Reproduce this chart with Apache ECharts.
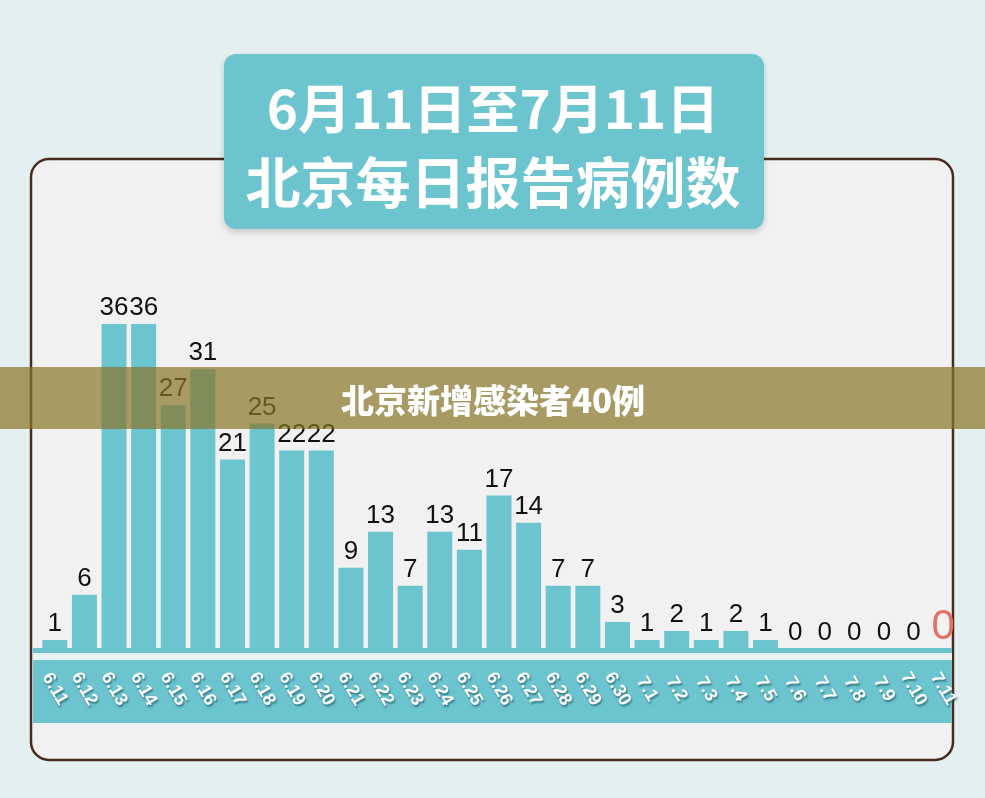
<!DOCTYPE html>
<html>
<head>
<meta charset="utf-8">
<script src="https://cdn.jsdelivr.net/npm/echarts@6/dist/echarts.min.js"></script>
<style>
  html, body { margin: 0; padding: 0; background: #e3eff0; }
  #chart { width: 985px; height: 798px; }
</style>
</head>
<body>
<div id="chart"></div>
<script>
// 6月11日至7月11日 北京每日报告病例数
const dates = ['6.11', '6.12', '6.13', '6.14', '6.15', '6.16', '6.17', '6.18', '6.19', '6.20',
  '6.21', '6.22', '6.23', '6.24', '6.25', '6.26', '6.27', '6.28', '6.29', '6.30',
  '7.1', '7.2', '7.3', '7.4', '7.5', '7.6', '7.7', '7.8', '7.9', '7.10', '7.11']
const cases = [1, 6, 36, 36, 27, 31, 21, 25, 22, 22,
  9, 13, 7, 13, 11, 17, 14, 7, 7, 3,
  1, 2, 1, 2, 1, 0, 0, 0, 0, 0, 0]
const titleLines = ['6月11日至7月11日', '北京每日报告病例数']
const bannerText = '北京新增感染者40例'

const teal = '#6cc4cf'
const numFont = '"Liberation Sans", Arial, sans-serif'
const cjkFont = '"Noto Sans CJK SC", sans-serif'

const barData = cases.map((v, i) => {
  if (i === cases.length - 1) {
    return { value: v, label: { color: '#e4706a', fontSize: 42, distance: 1 } }
  }
  return v
})

const chart = echarts.init(document.getElementById('chart'))

chart.setOption({
  backgroundColor: '#e3eff0',
  animation: false,
  grid: { left: 40, right: 27, top: 288, bottom: 149 },
  xAxis: {
    type: 'category',
    data: dates,
    z: 8,
    axisLine: { show: false },
    axisTick: { show: false },
    axisLabel: {
      interval: 0,
      rotate: -60,
      align: 'center',
      verticalAlign: 'middle',
      margin: 40,
      color: '#ffffff',
      fontSize: 18,
      fontWeight: 'bold',
      fontFamily: numFont,
      textShadowColor: 'rgba(30, 90, 100, 0.7)',
      textShadowBlur: 2,
      textShadowOffsetX: 1,
      textShadowOffsetY: 2
    }
  },
  yAxis: {
    type: 'value',
    min: 0,
    max: 40,
    show: false,
    splitLine: { show: false }
  },
  series: [{
    type: 'bar',
    data: barData,
    barWidth: 25,
    z: 5,
    itemStyle: { color: teal },
    label: {
      show: true,
      position: 'top',
      distance: 3,
      color: '#111111',
      fontSize: 26,
      fontFamily: numFont
    }
  }],
  graphic: [
    // 面板
    {
      type: 'rect', z: 0, silent: true,
      shape: { x: 31, y: 159, width: 922, height: 601, r: 18 },
      style: { fill: '#f1f1f1', stroke: '#4a2c1e', lineWidth: 2.5 }
    },
    // 底部日期条
    {
      type: 'rect', z: 1, silent: true,
      shape: { x: 33, y: 653, width: 919, height: 7 },
      style: { fill: '#e8f3f4' }
    },
    {
      type: 'rect', z: 1, silent: true,
      shape: { x: 33, y: 660, width: 919, height: 63 },
      style: { fill: teal }
    },
    {
      type: 'rect', z: 6, silent: true,
      shape: { x: 33, y: 648, width: 919, height: 5 },
      style: { fill: teal }
    },
    // 标题框
    {
      type: 'rect', z: 10, silent: true,
      shape: { x: 224, y: 54, width: 540, height: 175, r: 12 },
      style: {
        fill: teal,
        shadowBlur: 6,
        shadowColor: 'rgba(0, 0, 0, 0.18)',
        shadowOffsetY: 3
      }
    },
    {
      type: 'text', z: 11, silent: true,
      style: {
        text: titleLines[0],
        x: 493, y: 109,
        align: 'center', verticalAlign: 'middle',
        fill: '#ffffff',
        font: 'bold 53px ' + cjkFont,
        shadowColor: 'rgba(35, 110, 125, 0.85)',
        shadowBlur: 3,
        shadowOffsetX: 1,
        shadowOffsetY: 3
      }
    },
    {
      type: 'text', z: 11, silent: true,
      style: {
        text: titleLines[1],
        x: 493, y: 182,
        align: 'center', verticalAlign: 'middle',
        fill: '#ffffff',
        font: 'bold 55px ' + cjkFont,
        shadowColor: 'rgba(35, 110, 125, 0.85)',
        shadowBlur: 3,
        shadowOffsetX: 1,
        shadowOffsetY: 3
      }
    },
    // 横幅
    {
      type: 'rect', z: 50, silent: true,
      shape: { x: 0, y: 367, width: 985, height: 62 },
      style: { fill: 'rgba(137, 117, 38, 0.7)' }
    },
    {
      type: 'text', z: 51, silent: true,
      style: {
        text: bannerText,
        x: 493, y: 400,
        align: 'center', verticalAlign: 'middle',
        fill: '#ffffff',
        font: '900 33px ' + cjkFont
      }
    }
  ]
})
</script>
</body>
</html>
